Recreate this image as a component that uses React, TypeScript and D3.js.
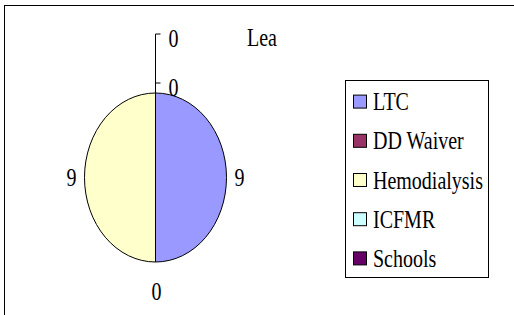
import * as d3 from 'd3';

const title = 'Lea';
const categories = ['LTC', 'DD Waiver', 'Hemodialysis', 'ICFMR', 'Schools'];
const values = [9, 0, 9, 0, 0];
const colors = ['#9999FF', '#993366', '#FFFFCC', '#CCFFFF', '#660066'];

const W = 514;
const H = 315;
const FONT = "'Liberation Serif', 'Times New Roman', Times, serif";
const TEXT_STRETCH = 1.22; // the whole chart was stretched vertically

function Label({ x, y, text, anchor = 'middle' }: { x: number; y: number; text: string; anchor?: string }) {
  return (
    <text
      transform={`translate(${x},${y}) scale(1,${TEXT_STRETCH})`}
      textAnchor={anchor}
      dy="0.35em"
      style={{ fontFamily: FONT, fontSize: '20px' }}
      fill="#000"
    >
      {text}
    </text>
  );
}

export default function App() {
  // pie geometry (ellipse)
  const cx = 155.5;
  const cy = 177.5;
  const rx = 71;
  const ry = 84.5;
  const sy = ry / rx;

  const pie = d3.pie<number>().sort(null).value((d) => d);
  const arcs = pie(values);
  const arc = d3.arc<d3.PieArcDatum<number>>().innerRadius(0).outerRadius(rx);

  // label placement for each slice
  const labelPos = (a: d3.PieArcDatum<number>, i: number) => {
    const mid = (a.startAngle + a.endAngle) / 2;
    const dx = Math.sin(mid);
    const dy = -Math.cos(mid);
    if (i === 3) return { x: cx + 13, y: cy - ry - 6, leader: false };
    if (i === 4) return { x: cx + 13, y: cy - ry - 55, leader: true };
    if (Math.abs(dy) > 0.9) return { x: cx + 1, y: cy + dy * (ry + 29), leader: false };
    return { x: cx + dx * (rx + 13), y: cy + dy * ry, leader: false };
  };

  const legend = d3.scaleBand<string>().domain(categories).range([82, 278]);

  return (
    <svg
      width={W}
      height={H}
      style={{ position: 'absolute', left: 0, top: 0, background: '#fff' }}
    >
      <rect x={4.5} y={5.5} width={W + 10} height={H + 10} fill="#fff" stroke="#000" strokeWidth={1} />

      <Label x={262} y={37} text={title} />

      <g transform={`translate(${cx},${cy}) scale(1,${sy})`}>
        {arcs.map((a, i) => (
          <path
            key={categories[i]}
            d={arc(a) || ''}
            fill={colors[i]}
            stroke="#000"
            strokeWidth={1}
            vectorEffect="non-scaling-stroke"
          />
        ))}
      </g>

      {arcs.map((a, i) => {
        const p = labelPos(a, i);
        return (
          <g key={'l' + i}>
            {p.leader && (
              <path
                d={`M${cx},${cy - ry} V${p.y - 4} H${p.x - 8}`}
                fill="none"
                stroke="#000"
                strokeWidth={1}
              />
            )}
            {i === 3 && (
              <path d={`M${cx},${p.y - 4} H${p.x - 8}`} fill="none" stroke="#000" strokeWidth={1} />
            )}
            <Label x={p.x} y={p.y} text={String(values[i])} anchor={i >= 3 ? 'start' : 'middle'} />
          </g>
        );
      })}

      <rect x={345.5} y={80.5} width={143} height={197} fill="#fff" stroke="#000" strokeWidth={1} />
      {categories.map((c, i) => {
        const y = (legend(c) || 0) + legend.bandwidth() / 2;
        return (
          <g key={'lg' + c}>
            <rect x={353.5} y={y - 6.5} width={13} height={13} fill={colors[i]} stroke="#000" strokeWidth={1} />
            <Label x={373} y={y} text={c} anchor="start" />
          </g>
        );
      })}
    </svg>
  );
}
